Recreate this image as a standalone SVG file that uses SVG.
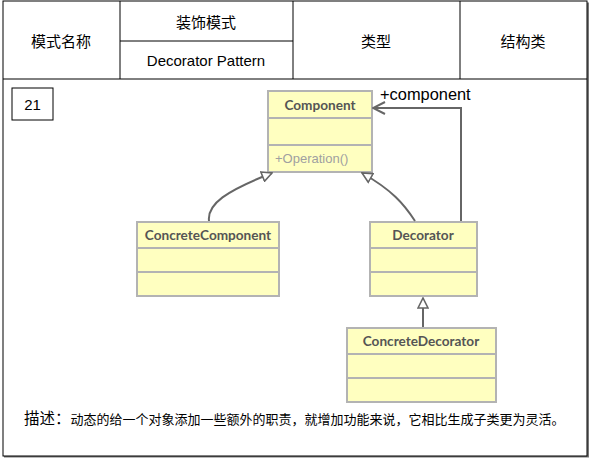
<svg xmlns="http://www.w3.org/2000/svg" width="590" height="459" viewBox="0 0 590 459">
<defs>
<style>
.cell{fill:none;stroke:#000;stroke-width:1}
.hd{font-family:"Liberation Sans","Noto Sans CJK SC",sans-serif;font-size:15px;fill:#000;text-anchor:middle}
.cls rect{fill:#ffffc0;stroke:#b3b3b3;stroke-width:2}
.cls line{stroke:#b3b3b3;stroke-width:2}
.ttl{font-family:Lato,"Open Sans",sans-serif;font-weight:bold;font-size:13.6px;fill:#555;text-anchor:middle}
.op{font-family:"Liberation Sans",sans-serif;font-size:13px;fill:#a0a0a0}
.conn path{fill:none;stroke:#666;stroke-width:2}
</style>
<marker id="tri" viewBox="0 0 12 12" refX="11" refY="6" markerWidth="12" markerHeight="12" markerUnits="userSpaceOnUse" orient="auto">
<path d="M1,1 L11,6 L1,11 Z" fill="#fff" stroke="#666" stroke-width="1.6"/>
</marker>
<marker id="open" viewBox="0 0 14 14" refX="13" refY="7" markerWidth="14" markerHeight="14" markerUnits="userSpaceOnUse" orient="auto">
<path d="M1,1 L13,7 L1,13" fill="none" stroke="#666" stroke-width="2"/>
</marker>
</defs>
<rect x="0" y="0" width="590" height="459" fill="#fff"/>
<g id="frame">
<rect x="4" y="2.5" width="585" height="455" fill="#777"/>
<rect x="3" y="1" width="584" height="455" fill="#fff" stroke="#000" stroke-width="1"/>
<line class="cell" x1="3" y1="79" x2="587" y2="79"/>
<line class="cell" x1="120" y1="1" x2="120" y2="79"/>
<line class="cell" x1="293" y1="1" x2="293" y2="79"/>
<line class="cell" x1="460" y1="1" x2="460" y2="79"/>
<line class="cell" x1="120" y1="41" x2="293" y2="41"/>
<text class="hd" x="61" y="47">模式名称</text>
<text class="hd" x="206" y="28">装饰模式</text>
<text class="hd" x="206" y="66">Decorator Pattern</text>
<text class="hd" x="376" y="47">类型</text>
<text class="hd" x="523" y="47">结构类</text>
</g>
<g id="num">
<rect x="12" y="88" width="41" height="32" fill="#fff" stroke="#000" stroke-width="1"/>
<text class="hd" x="32.5" y="110">21</text>
</g>
<g id="Component" class="cls">
<rect x="268" y="91" width="104" height="81"/>
<line x1="268" y1="118" x2="372" y2="118"/>
<line x1="268" y1="145" x2="372" y2="145"/>
<text class="ttl" x="320" y="110">Component</text>
<text class="op" x="275" y="163">+Operation()</text>
</g>
<g id="ConcreteComponent" class="cls">
<rect x="137" y="222" width="142" height="74"/>
<line x1="137" y1="248" x2="279" y2="248"/>
<line x1="137" y1="272" x2="279" y2="272"/>
<text class="ttl" x="208" y="240">ConcreteComponent</text>
</g>
<g id="Decorator" class="cls">
<rect x="370" y="222" width="107" height="74"/>
<line x1="370" y1="248" x2="477" y2="248"/>
<line x1="370" y1="272" x2="477" y2="272"/>
<text class="ttl" x="423" y="240">Decorator</text>
</g>
<g id="ConcreteDecorator" class="cls">
<rect x="347" y="328" width="149" height="74"/>
<line x1="347" y1="354" x2="496" y2="354"/>
<line x1="347" y1="378" x2="496" y2="378"/>
<text class="ttl" x="421" y="346">ConcreteDecorator</text>
</g>
<g id="connectors" class="conn">
<path d="M209,221 C207,204 226,191 272,173" marker-end="url(#tri)"/>
<path d="M415,221 C404,204 392,190 362,173" marker-end="url(#tri)"/>
<path d="M423,327 L423,298" marker-end="url(#tri)"/>
<path d="M461,221 L461,108 L373,108" marker-end="url(#open)"/>
</g>
<text x="380" y="100" font-family="'Liberation Sans',sans-serif" font-size="16.4" fill="#000">+component</text>
<g id="desc">
<text x="24" y="424" font-family="'Liberation Sans','Noto Sans CJK SC',sans-serif" fill="#000"><tspan font-size="15.5">描述：</tspan><tspan font-size="13">动态的给一个对象添加一些额外的职责，就增加功能来说，它相比生成子类更为灵活。</tspan></text>
</g>
</svg>
